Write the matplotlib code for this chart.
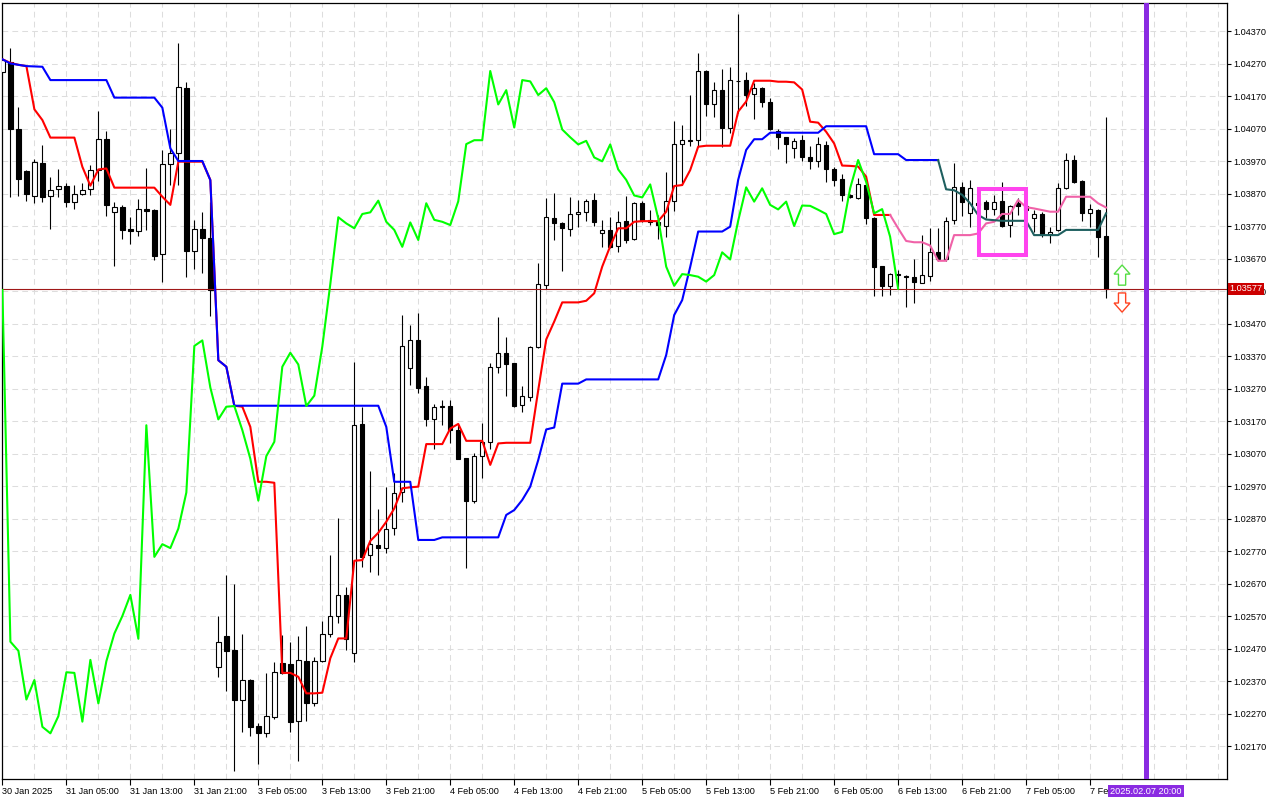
import matplotlib.pyplot as plt
import numpy as np
from matplotlib.patches import Rectangle, FancyArrow
from matplotlib.transforms import blended_transform_factory

# H1 bars, 30 Jan 21:00 .. 7 Feb 15:00
opens = [1.04245, 1.04276, 1.04070, 1.03938, 1.03862, 1.03963, 1.03861, 1.03883, 1.03893, 1.03845,
         1.03867, 1.03883, 1.03942, 1.04037, 1.03812, 1.03830, 1.03760, 1.03754, 1.03821, 1.03818,
         1.03683, 1.03960, 1.03994, 1.04194, 1.03692, 1.03760, 1.03732, 1.02412, 1.02508, 1.02465,
         1.02313, 1.02373, 1.02231, 1.02209, 1.02260, 1.02424, 1.02422, 1.02248, 1.02431, 1.02301,
         1.02431, 1.02514, 1.02570, 1.02635, 1.02455, 1.03161, 1.02757, 1.02787, 1.02778, 1.02840,
         1.02953, 1.03332, 1.03418, 1.03278, 1.03175, 1.03214, 1.03216, 1.03142, 1.03055, 1.02925,
         1.03062, 1.03106, 1.03337, 1.03380, 1.03347, 1.03218, 1.03245, 1.03399, 1.03589, 1.03794,
         1.03778, 1.03760, 1.03806, 1.03814, 1.03850, 1.03747, 1.03758, 1.03710, 1.03785, 1.03729,
         1.03840, 1.03790, 1.03783, 1.03771, 1.03846, 1.04021, 1.04032, 1.04034, 1.04247, 1.04144,
         1.04188, 1.04073, 1.04217, 1.04219, 1.04175, 1.04194, 1.04151, 1.04063, 1.04043, 1.04009,
         1.04034, 1.03981, 1.03969, 1.04019, 1.03944, 1.03914, 1.03864, 1.03855, 1.03896, 1.03794,
         1.03647, 1.03586, 1.03621, 1.03616, 1.03614, 1.03596, 1.03616, 1.03689, 1.03667, 1.03788,
         1.03889, 1.03809, 1.03840, 1.03843, 1.03821, 1.03847, 1.03772, 1.03840, 1.03832, 1.03794,
         1.03807, 1.03745, 1.03758, 1.03886, 1.03973, 1.03909, 1.03809, 1.03819, 1.03739]
highs = [1.04286, 1.04317, 1.04135, 1.03942, 1.03975, 1.04019, 1.03922, 1.03944, 1.03903, 1.03896,
         1.03901, 1.03958, 1.04125, 1.04063, 1.03845, 1.03834, 1.03797, 1.03852, 1.03947, 1.03821,
         1.04004, 1.04070, 1.04332, 1.04214, 1.03788, 1.03814, 1.03845, 1.02570, 1.02696, 1.02668,
         1.02516, 1.02375, 1.02242, 1.02395, 1.02429, 1.02511, 1.02491, 1.02508, 1.02539, 1.02443,
         1.02555, 1.02757, 1.02872, 1.02658, 1.03352, 1.03214, 1.03016, 1.02898, 1.02968, 1.03009,
         1.03496, 1.03465, 1.03501, 1.03304, 1.03222, 1.03235, 1.03235, 1.03158, 1.03057, 1.03071,
         1.03165, 1.03349, 1.03491, 1.03427, 1.03349, 1.03278, 1.03401, 1.03655, 1.03855, 1.03871,
         1.03783, 1.03858, 1.03850, 1.03852, 1.03873, 1.03790, 1.03797, 1.03816, 1.03862, 1.03845,
         1.03848, 1.03819, 1.03804, 1.03935, 1.04094, 1.04081, 1.04173, 1.04303, 1.04250, 1.04214,
         1.04253, 1.04258, 1.04422, 1.04245, 1.04209, 1.04197, 1.04163, 1.04067, 1.04045, 1.04040,
         1.04050, 1.04016, 1.04043, 1.04032, 1.03953, 1.03930, 1.03868, 1.03917, 1.03898, 1.03799,
         1.03648, 1.03626, 1.03635, 1.03619, 1.03667, 1.03742, 1.03763, 1.03763, 1.03799, 1.03963,
         1.03906, 1.03912, 1.03860, 1.03850, 1.03865, 1.03906, 1.03835, 1.03855, 1.03845, 1.03819,
         1.03814, 1.03768, 1.03901, 1.03994, 1.03989, 1.03912, 1.03838, 1.03821, 1.04104]
lows = [1.04240, 1.03860, 1.03863, 1.03848, 1.03842, 1.03845, 1.03762, 1.03860, 1.03829, 1.03823,
        1.03865, 1.03865, 1.03909, 1.03801, 1.03648, 1.03730, 1.03714, 1.03739, 1.03758, 1.03665,
        1.03599, 1.03896, 1.03896, 1.03614, 1.03639, 1.03625, 1.03493, 1.02381, 1.02340, 1.02094,
        1.02214, 1.02201, 1.02116, 1.02198, 1.02252, 1.02393, 1.02214, 1.02125, 1.02248, 1.02294,
        1.02429, 1.02506, 1.02549, 1.02465, 1.02429, 1.02722, 1.02706, 1.02695, 1.02763, 1.02819,
        1.02922, 1.03281, 1.03257, 1.03155, 1.03083, 1.03158, 1.03101, 1.03052, 1.02717, 1.02917,
        1.02994, 1.03083, 1.03319, 1.03247, 1.03212, 1.03199, 1.03233, 1.03394, 1.03575, 1.03727,
        1.03632, 1.03739, 1.03766, 1.03786, 1.03770, 1.03706, 1.03701, 1.03691, 1.03719, 1.03727,
        1.03783, 1.03773, 1.03729, 1.03735, 1.03817, 1.03896, 1.04016, 1.04017, 1.04108, 1.04104,
        1.04014, 1.04057, 1.04117, 1.04138, 1.04098, 1.04137, 1.04065, 1.04006, 1.03963, 1.03978,
        1.03971, 1.03944, 1.03953, 1.03906, 1.03893, 1.03848, 1.03856, 1.03852, 1.03776, 1.03556,
        1.03555, 1.03558, 1.03583, 1.03520, 1.03532, 1.03594, 1.03602, 1.03663, 1.03663, 1.03776,
        1.03801, 1.03768, 1.03815, 1.03794, 1.03804, 1.03768, 1.03737, 1.03804, 1.03805, 1.03753,
        1.03735, 1.03719, 1.03756, 1.03883, 1.03903, 1.03786, 1.03768, 1.03676, 1.03549]
closes = [1.04281, 1.04070, 1.03914, 1.03867, 1.03968, 1.03860, 1.03880, 1.03893, 1.03845, 1.03870,
          1.03881, 1.03941, 1.04037, 1.03836, 1.03830, 1.03757, 1.03754, 1.03821, 1.03817, 1.03679,
          1.03960, 1.03994, 1.04197, 1.03694, 1.03760, 1.03732, 1.03573, 1.02491, 1.02463, 1.02313,
          1.02373, 1.02229, 1.02209, 1.02262, 1.02397, 1.02395, 1.02245, 1.02435, 1.02301, 1.02431,
          1.02516, 1.02570, 1.02635, 1.02500, 1.03157, 1.02752, 1.02791, 1.02779, 1.02839, 1.02950,
          1.03401, 1.03418, 1.03273, 1.03175, 1.03214, 1.03216, 1.03142, 1.03054, 1.02925, 1.03062,
          1.03106, 1.03337, 1.03380, 1.03344, 1.03216, 1.03248, 1.03399, 1.03591, 1.03797, 1.03778,
          1.03763, 1.03807, 1.03812, 1.03848, 1.03783, 1.03758, 1.03706, 1.03781, 1.03727, 1.03840,
          1.03789, 1.03783, 1.03773, 1.03846, 1.04022, 1.04034, 1.04034, 1.04247, 1.04144, 1.04188,
          1.04073, 1.04219, 1.04215, 1.04173, 1.04194, 1.04151, 1.04067, 1.04043, 1.04021, 1.04032,
          1.03981, 1.03969, 1.04021, 1.03944, 1.03912, 1.03864, 1.03858, 1.03898, 1.03794, 1.03645,
          1.03586, 1.03622, 1.03619, 1.03614, 1.03599, 1.03619, 1.03689, 1.03667, 1.03786, 1.03889,
          1.03845, 1.03886, 1.03835, 1.03821, 1.03845, 1.03770, 1.03833, 1.03832, 1.03820, 1.03807,
          1.03745, 1.03752, 1.03886, 1.03973, 1.03906, 1.03809, 1.03822, 1.03737, 1.03577]

# Tenkan-sen (red, pink on the last bars)
tenkan = [1.04283, 1.04272, 1.04266, 1.04262, 1.04129, 1.04096, 1.04042, 1.04042, 1.04042, 1.04042,
          1.03952, 1.03894, 1.03944, 1.03947, 1.03888, 1.03888, 1.03888, 1.03888, 1.03888, 1.03888,
          1.03860, 1.03835, 1.03968, 1.03968, 1.03968, 1.03968, 1.03912, 1.03357, 1.03337, 1.03217,
          1.03214, 1.03152, 1.02983, 1.02983, 1.02980, 1.02395, 1.02395, 1.02383, 1.02332, 1.02332,
          1.02334, 1.02440, 1.02501, 1.02501, 1.02740, 1.02742, 1.02801, 1.02826, 1.02860, 1.02901,
          1.02963, 1.02966, 1.02968, 1.03099, 1.03099, 1.03099, 1.03147, 1.03161, 1.03109, 1.03109,
          1.03109, 1.03035, 1.03101, 1.03103, 1.03103, 1.03103, 1.03103, 1.03265, 1.03421, 1.03476,
          1.03535, 1.03535, 1.03535, 1.03540, 1.03563, 1.03645, 1.03708, 1.03763, 1.03763, 1.03783,
          1.03785, 1.03785, 1.03785, 1.03814, 1.03893, 1.03896, 1.03942, 1.04014, 1.04017, 1.04017,
          1.04017, 1.04017, 1.04122, 1.04153, 1.04217, 1.04217, 1.04217, 1.04214, 1.04214, 1.04212,
          1.04190, 1.04091, 1.04088, 1.04060, 1.04024, 1.03956, 1.03955, 1.03953, 1.03922, 1.03804,
          1.03804, 1.03804, 1.03763, 1.03724, 1.03720, 1.03720, 1.03710, 1.03663, 1.03663, 1.03742,
          1.03742, 1.03742, 1.03747, 1.03778, 1.03783, 1.03807, 1.03807, 1.03850, 1.03828, 1.03824,
          1.03819, 1.03814, 1.03814, 1.03860, 1.03860, 1.03860, 1.03860, 1.03840, 1.03827]

# Kijun-sen (blue, dark teal on the last bars)
kijun = [1.04283, 1.04270, 1.04266, 1.04262, 1.04261, 1.04260, 1.04219, 1.04219, 1.04219, 1.04219,
         1.04219, 1.04219, 1.04219, 1.04219, 1.04165, 1.04165, 1.04165, 1.04165, 1.04165, 1.04165,
         1.04134, 1.04009, 1.03970, 1.03970, 1.03970, 1.03970, 1.03911, 1.03357, 1.03337, 1.03217,
         1.03217, 1.03217, 1.03217, 1.03217, 1.03217, 1.03217, 1.03217, 1.03217, 1.03217, 1.03217,
         1.03217, 1.03217, 1.03217, 1.03217, 1.03217, 1.03217, 1.03217, 1.03217, 1.03152, 1.02983,
         1.02983, 1.02983, 1.02804, 1.02804, 1.02804, 1.02812, 1.02812, 1.02812, 1.02812, 1.02812,
         1.02812, 1.02812, 1.02812, 1.02881, 1.02896, 1.02927, 1.02968, 1.03050, 1.03144, 1.03150,
         1.03285, 1.03285, 1.03285, 1.03298, 1.03298, 1.03298, 1.03298, 1.03298, 1.03298, 1.03298,
         1.03298, 1.03298, 1.03298, 1.03373, 1.03496, 1.03542, 1.03644, 1.03753, 1.03753, 1.03753,
         1.03753, 1.03768, 1.03912, 1.04004, 1.04037, 1.04037, 1.04057, 1.04057, 1.04057, 1.04057,
         1.04057, 1.04057, 1.04057, 1.04077, 1.04077, 1.04077, 1.04077, 1.04077, 1.04077, 1.03991,
         1.03991, 1.03991, 1.03991, 1.03973, 1.03973, 1.03973, 1.03973, 1.03973, 1.03883, 1.03880,
         1.03866, 1.03840, 1.03804, 1.03790, 1.03788, 1.03786, 1.03786, 1.03786, 1.03786, 1.03742,
         1.03742, 1.03742, 1.03742, 1.03758, 1.03758, 1.03758, 1.03758, 1.03758, 1.03809]

chikou_shift = 26
tenkan_split = 111   # red -> pink
kijun_split = 117    # blue -> teal

time_labels = ["30 Jan 2025", "31 Jan 05:00", "31 Jan 13:00", "31 Jan 21:00", "3 Feb 05:00",
               "3 Feb 13:00", "3 Feb 21:00", "4 Feb 05:00", "4 Feb 13:00", "4 Feb 21:00",
               "5 Feb 05:00", "5 Feb 13:00", "5 Feb 21:00", "6 Feb 05:00", "6 Feb 13:00",
               "6 Feb 21:00", "7 Feb 05:00", "7 Feb 13:00"]
label_step = 8
price_ticks = np.round(np.arange(1.02170, 1.04371, 0.001), 5)
last_price = 1.03577
vline_bar = 143
vline_label = "2025.02.07 20:00"
box_bars = (122.1, 128.0)
box_prices = (1.03682, 1.03885)
arrow_bar = 140

plt.rcParams['font.family'] = ['Liberation Sans', 'DejaVu Sans']

o = np.array(opens)
h = np.array(highs)
l = np.array(lows)
c = np.array(closes)
x = np.arange(len(c))

fig = plt.figure(figsize=(12.8, 8), dpi=100)
ax = fig.add_axes([2.4 / 1280, 1 - 779 / 800, (1227.3 - 2.4) / 1280, (779 - 2.7) / 800])
ax.set_xlim(0.05, 153.16)
ax.set_ylim(1.020685, 1.044571)

# grid
ax.set_xticks(np.arange(0, 154, 4), minor=True)
ax.set_xticks(np.arange(0, len(time_labels) * label_step, label_step))
ax.set_xticklabels(time_labels, ha='left')
ax.set_yticks(price_ticks)
ax.set_yticklabels([f"{v:.5f}" for v in price_ticks])
ax.yaxis.tick_right()
ax.grid(True, which='both', axis='x', color='#dddddd', lw=0.75, ls=(0, (5.5, 4)))
ax.grid(True, which='major', axis='y', color='#dddddd', lw=0.75, ls=(0, (5.5, 4)))
ax.set_axisbelow(True)
ax.tick_params(axis='x', which='minor', length=0)
ax.tick_params(axis='x', which='major', length=4, width=0.8, pad=1.5, labelsize=6.6)
ax.tick_params(axis='y', length=3, width=0.8, pad=1, labelsize=6.6)
for s in ax.spines.values():
    s.set_color('black')
    s.set_linewidth(0.9)

# candles
up = c >= o
ax.vlines(x, l, h, color='black', lw=0.8, zorder=2)
ax.bar(x, np.abs(c - o), bottom=np.minimum(o, c), width=0.55,
       color=np.where(up, 'white', 'black'), edgecolor='black', linewidth=0.8, zorder=3)

# indicator lines
ax.plot(x[:tenkan_split + 1], tenkan[:tenkan_split + 1], color='#ff0000', lw=1.5, zorder=4)
ax.plot(x[tenkan_split:], tenkan[tenkan_split:], color='#f062a8', lw=1.5, zorder=4)
ax.plot(x[:kijun_split + 1], kijun[:kijun_split + 1], color='#0000ff', lw=1.5, zorder=4)
ax.plot(x[kijun_split:], kijun[kijun_split:], color='#1e5f5f', lw=1.5, zorder=4)
ax.plot(x[:-chikou_shift], c[chikou_shift:], color='#00ff00', lw=1.5, zorder=4)

# price line + label
ax.axhline(last_price, color='#a01818', lw=0.8, zorder=3.5)
tr = blended_transform_factory(ax.transAxes, ax.transData)
ax.text(1.0015, last_price, f"{last_price:.5f}", transform=tr, ha='left', va='center',
        fontsize=6.6, color='white', zorder=10, clip_on=False,
        bbox=dict(boxstyle='square,pad=0.15', fc='#cc0000', ec='none'))

# vertical line + label
ax.axvline(vline_bar, color='#8a2be2', lw=3.6, zorder=5)
tr2 = blended_transform_factory(ax.transData, ax.transAxes)
ax.text(vline_bar, -0.0155, vline_label, transform=tr2, ha='center', va='center',
        fontsize=6.6, color='white', zorder=10, clip_on=False,
        bbox=dict(boxstyle='square,pad=0.2', fc='#8a2be2', ec='none'))

# highlight box
ax.add_patch(Rectangle((box_bars[0], box_prices[0]), box_bars[1] - box_bars[0],
                       box_prices[1] - box_prices[0], fill=False, ec='#ff44ee', lw=2.9, zorder=6))

# arrows
ax.add_patch(FancyArrow(arrow_bar, 1.03588, 0, 0.00062, width=0.9, head_width=2.0,
                        head_length=0.00028, length_includes_head=True,
                        fc='white', ec='#55dd44', lw=1.0, zorder=6))
ax.add_patch(FancyArrow(arrow_bar, 1.03564, 0, -0.00059, width=0.9, head_width=2.0,
                        head_length=0.00028, length_includes_head=True,
                        fc='white', ec='#ff4422', lw=1.0, zorder=6))

fig.savefig('out.png', dpi=100)
